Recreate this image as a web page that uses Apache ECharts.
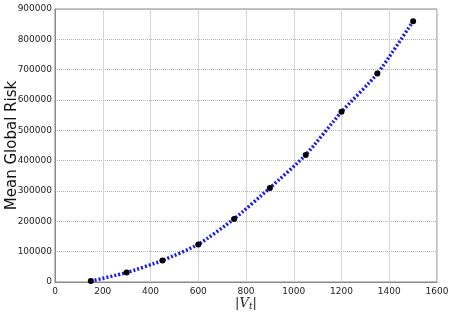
<!DOCTYPE html>
<html lang="en">
<head>
  <meta charset="UTF-8">
  <title>Mean Global Risk</title>
  <style>
    html, body { margin: 0; padding: 0; background: #fff; }
    #box { width: 451px; height: 312px; }
  </style>
</head>
<body>
  <div id="box"></div>
  <script src="https://cdn.jsdelivr.net/npm/echarts@6/dist/echarts.min.js"></script>
  <script>
    // values
    let vtSizes = [150, 300, 450, 600, 750, 900, 1050, 1200, 1350, 1500]
    let meanRisk = [3000, 31000, 71000, 124000, 208000, 310000, 419000, 561000, 687000, 860000]

    let points = []
    for (let i = 0; i < vtSizes.length; i++) {
      points.push([vtSizes[i], meanRisk[i]])
    }

    let myChart = echarts.init(document.getElementById('box'))
    let axisLine = { show: true, lineStyle: { color: '#888', width: 1 } }
    let labelFont = { color: '#222', fontSize: 9, fontFamily: 'DejaVu Sans', formatter: function (v) { return String(v) } }
    let italic = { fontSize: 13, fontStyle: 'italic', fontFamily: 'DejaVu Serif', color: '#222' }

    let option = {
      animation: false,
      grid: { left: 55, right: 14, top: 9, bottom: 30, show: true, borderColor: '#888', borderWidth: 1,
        containLabel: false, outerBoundsMode: 'none' },
      xAxis: {
        type: 'value',
        min: 0, max: 1600, interval: 200,
        axisLine: axisLine,
        axisTick: { show: false },
        splitLine: { show: true, lineStyle: { color: '#d4d4d4', type: 'solid', width: 1 } },
        axisLabel: Object.assign({ margin: 5 }, labelFont),
        name: '{n||V}{s|t}{n||}',
        nameLocation: 'middle',
        nameGap: 14,
        nameMoveOverlap: false,
        nameTextStyle: Object.assign({
          rich: {
            n: italic,
            s: { fontSize: 9, fontStyle: 'italic', fontFamily: 'DejaVu Serif', color: '#222', padding: [6, 0, 0, 0] }
          }
        }, italic)
      },
      yAxis: {
        type: 'value',
        min: 0, max: 900000, interval: 100000,
        axisLine: axisLine,
        axisTick: { show: false },
        splitLine: { show: true, lineStyle: { color: '#b0b0b0', type: 'dotted', width: 1 } },
        axisLabel: Object.assign({ margin: 3 }, labelFont),
        name: 'Mean Global Risk',
        nameLocation: 'middle',
        nameGap: 35,
        nameMoveOverlap: false,
        nameTextStyle: { fontFamily: 'DejaVu Sans', fontSize: 15, color: '#111' }
      },
      series: [{
        type: 'line',
        data: points,
        smooth: 0.2,
        symbol: 'circle',
        symbolSize: 6,
        itemStyle: { color: '#000' },
        lineStyle: { color: '#1a1aee', width: 3.5, type: [2, 2] },
        z: 3
      }]
    }
    myChart.setOption(option)
  </script>
</body>
</html>
